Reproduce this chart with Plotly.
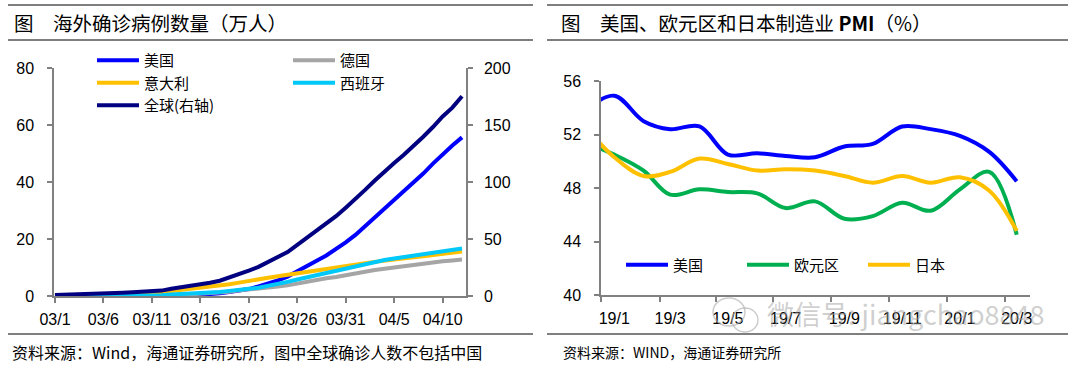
import plotly.graph_objects as go
import pandas as pd

# ---------------- Left chart data (万人) ----------------
dates_left = pd.date_range("2020-03-01", "2020-04-12", freq="D").strftime("%Y-%m-%d").tolist()

us_cases = [0.01, 0.01, 0.01, 0.02, 0.02, 0.03, 0.04, 0.05, 0.07, 0.10, 0.13, 0.16, 0.22, 0.28,
            0.36, 0.46, 0.63, 0.92, 1.38, 1.94, 2.42, 3.36, 4.38, 5.49, 6.82, 8.54, 10.41, 12.36,
            14.21, 16.38, 18.82, 21.42, 24.46, 27.65, 30.97, 33.76, 36.72, 39.80, 42.97, 46.44,
            49.79, 52.80, 55.65]
germany_cases = [0.01, 0.02, 0.02, 0.03, 0.05, 0.07, 0.08, 0.10, 0.12, 0.15, 0.19, 0.21, 0.37,
                 0.46, 0.58, 0.73, 0.93, 1.23, 1.53, 1.98, 2.22, 2.49, 2.91, 3.30, 3.73, 4.39,
                 5.09, 5.77, 6.21, 6.69, 7.18, 7.79, 8.48, 9.12, 9.61, 10.01, 10.34, 10.77,
                 11.33, 11.82, 12.22, 12.49, 12.79]
italy_cases = [0.17, 0.20, 0.25, 0.31, 0.39, 0.46, 0.59, 0.74, 0.92, 1.01, 1.25, 1.25, 1.77,
               2.12, 2.47, 2.80, 3.15, 3.57, 4.10, 4.70, 5.36, 5.91, 6.39, 6.92, 7.44, 8.06,
               8.65, 9.25, 9.77, 10.17, 10.58, 11.06, 11.52, 11.98, 12.46, 12.89, 13.25, 13.56,
               13.94, 14.36, 14.76, 15.23, 15.64]
spain_cases = [0.01, 0.01, 0.02, 0.02, 0.03, 0.04, 0.05, 0.07, 0.11, 0.17, 0.23, 0.23, 0.52,
               0.64, 0.78, 0.99, 1.17, 1.39, 1.80, 2.04, 2.54, 2.88, 3.51, 3.99, 4.95, 5.78,
               6.57, 7.32, 8.01, 8.80, 9.59, 10.41, 11.21, 11.92, 12.62, 13.16, 13.67, 14.19,
               14.82, 15.32, 15.83, 16.30, 16.68]
global_cases = [0.84, 1.02, 1.26, 1.47, 1.73, 2.11, 2.51, 2.90, 3.27, 3.77, 4.50, 4.74, 6.43,
                7.51, 8.65, 10.05, 11.60, 13.37, 16.14, 19.10, 22.32, 25.55, 29.67, 33.65,
                38.60, 44.78, 51.14, 57.87, 63.80, 70.02, 77.52, 85.02, 93.07, 101.34, 109.35,
                116.72, 123.88, 131.38, 139.74, 148.24, 157.46, 165.26, 175.16]

left_names = ["美国", "德国", "意大利", "西班牙", "全球(右轴)"]
left_colors = ["#0000FF", "#A5A5A5", "#FFC000", "#00C8F8", "#000080"]

# ---------------- Right chart data (PMI, %) ----------------
months_right = pd.date_range("2018-12-01", "2020-03-01", freq="MS").strftime("%Y-%m-%d").tolist()
pmi_us = [53.8, 54.9, 53.0, 52.4, 52.6, 50.5, 50.6, 50.4, 50.3, 51.1, 51.3, 52.6, 52.4, 51.9, 50.7, 48.5]
pmi_euro = [51.4, 50.5, 49.3, 47.5, 47.9, 47.7, 47.6, 46.5, 47.0, 45.7, 45.9, 46.9, 46.3, 47.9, 49.2, 44.5]
pmi_japan = [52.6, 50.3, 48.9, 49.2, 50.2, 49.8, 49.3, 49.4, 49.3, 48.9, 48.4, 48.9, 48.4, 48.8, 47.8, 44.8]
right_names = ["美国", "欧元区", "日本"]
right_colors = ["#0000FF", "#00B050", "#FFC000"]

W, H = 1080, 367
def px(x):
    return x / W
def py(y):
    return 1 - y / H

CJK = "Noto Sans CJK SC"
NUM = "Arial, Liberation Sans, sans-serif"
AX = "#808080"

fig = go.Figure()

left_series = [us_cases, germany_cases, italy_cases, spain_cases, global_cases]
left_legends = ["legend", "legend2", "legend", "legend2", "legend"]
for name, vals, col, lg in zip(left_names, left_series, left_colors, left_legends):
    fig.add_trace(go.Scatter(
        x=dates_left, y=vals, name=name, mode="lines",
        line=dict(color=col, width=4),
        xaxis="x", yaxis="y2" if name.startswith("全球") else "y",
        legend=lg, showlegend=True))

for name, vals, col in zip(right_names, [pmi_us, pmi_euro, pmi_japan], right_colors):
    fig.add_trace(go.Scatter(
        x=months_right, y=vals, name=name, mode="lines",
        line=dict(color=col, width=4, shape="spline", smoothing=1.0),
        xaxis="x2", yaxis="y3", legend="legend3"))

tickfont = dict(family=NUM, size=16, color="#000000")

fig.update_layout(
    width=W, height=H, autosize=False,
    margin=dict(l=0, r=0, t=0, b=0, autoexpand=False),
    paper_bgcolor="white", plot_bgcolor="white",
    showlegend=True,
    xaxis=dict(domain=[px(54), px(466)], type="date",
               range=["2020-02-29 21:36", "2020-04-12 09:50"],
               tick0="2020-03-01", dtick=5 * 86400000, tickformat="%m/%-d", tickangle=0,
               showline=True, linecolor=AX, linewidth=1.5, ticks="outside",
               ticklen=5, tickcolor=AX, tickwidth=1.5, showgrid=False, zeroline=False,
               tickfont=tickfont, ticklabelstandoff=3, anchor="y", automargin=False),
    yaxis=dict(domain=[py(296), py(68)], range=[0, 80], dtick=20,
               showline=True, linecolor=AX, linewidth=1.5, ticks="outside",
               ticklen=5, tickcolor=AX, tickwidth=1.5, showgrid=False, zeroline=False,
               tickfont=tickfont, ticklabelstandoff=10, anchor="x", automargin=False),
    yaxis2=dict(overlaying="y", side="right", range=[0, 200], dtick=50, anchor="x",
                showline=True, linecolor=AX, linewidth=1.5, ticks="outside",
                ticklen=5, tickcolor=AX, tickwidth=1.5, showgrid=False, zeroline=False,
                tickfont=tickfont, ticklabelstandoff=8, automargin=False),
    xaxis2=dict(domain=[px(601), px(1030)], type="date",
                range=["2018-12-18", "2020-03-15"],
                tick0="2019-01-01", dtick="M2", tickformat="%y/%-m", tickangle=0,
                showline=True, linecolor=AX, linewidth=1.5, ticks="",
                minor=dict(ticks="outside", tick0="2018-12-18", dtick="M2", ticklen=5,
                           tickcolor=AX, tickwidth=1.5, showgrid=False),
                showgrid=False, zeroline=False, tickfont=tickfont,
                ticklabelstandoff=8, anchor="y3", automargin=False),
    yaxis3=dict(domain=[py(295), py(81)], range=[40, 56], dtick=4, anchor="x2",
                showline=True, linecolor=AX, linewidth=1.5, ticks="outside",
                ticklen=5, tickcolor=AX, tickwidth=1.5, showgrid=False, zeroline=False,
                tickfont=tickfont, ticklabelstandoff=10, automargin=False),
    legend=dict(x=px(92), y=py(44), xanchor="left", yanchor="top", orientation="v",
                font=dict(family=CJK, size=15, color="#000000"), bgcolor="rgba(0,0,0,0)",
                itemwidth=42, tracegroupgap=0, traceorder="normal"),
    legend2=dict(x=px(288), y=py(44), xanchor="left", yanchor="top", orientation="v",
                 font=dict(family=CJK, size=15, color="#000000"), bgcolor="rgba(0,0,0,0)",
                 itemwidth=42, tracegroupgap=0, traceorder="normal"),
    legend3=dict(x=px(621), y=py(265), xanchor="left", yanchor="middle", orientation="h",
                 font=dict(family=CJK, size=15, color="#000000"), bgcolor="rgba(0,0,0,0)",
                 itemwidth=42, entrywidth=64, entrywidthmode="pixels"),
)

line_col = "#555555"
shapes = []
for (x0, x1) in [(8, 533), (547, 1068)]:
    for yy in [5, 40, 334]:
        shapes.append(dict(type="line", xref="paper", yref="paper",
                           x0=px(x0), x1=px(x1), y0=py(yy), y1=py(yy),
                           line=dict(color=line_col, width=1.5)))
# watermark icon
shapes.append(dict(type="circle", xref="paper", yref="paper",
                   x0=px(713), x1=px(745), y0=py(326), y1=py(298),
                   line=dict(color="rgba(170,170,170,0.6)", width=1.5)))
shapes.append(dict(type="circle", xref="paper", yref="paper",
                   x0=px(732), x1=px(758), y0=py(332), y1=py(308),
                   line=dict(color="rgba(170,170,170,0.6)", width=1.5)))
fig.update_layout(shapes=shapes)

annotations = [
    dict(text="图\u3000海外确诊病例数量（万人）", x=px(12), y=py(22), size=19.5),
    dict(text="图\u3000美国、欧元区和日本制造业 <b>PMI</b>（%）", x=px(559), y=py(22), size=19.5),
    dict(text="资料来源：Wind，海通证券研究所，图中全球确诊人数不包括中国", x=px(10), y=py(352), size=16),
    dict(text="资料来源：WIND，海通证券研究所", x=px(561), y=py(352), size=14),
]
ann_out = []
for a in annotations:
    ann_out.append(dict(text=a["text"], x=a["x"], y=a["y"], xref="paper", yref="paper",
                        xanchor="left", yanchor="middle", showarrow=False,
                        font=dict(family=CJK, size=a["size"], color="#000000")))
ann_out.append(dict(text="微信号: jiangchao8848",
                    x=px(765), y=py(313), xref="paper", yref="paper", xanchor="left",
                    yanchor="middle", showarrow=False,
                    font=dict(family=CJK, size=27, color="rgba(160,160,160,0.5)")))
fig.update_layout(annotations=ann_out)

fig.write_html("out.html", config={"displayModeBar": False},
               post_script="document.body.style.margin='0';document.body.style.overflow='hidden';")
